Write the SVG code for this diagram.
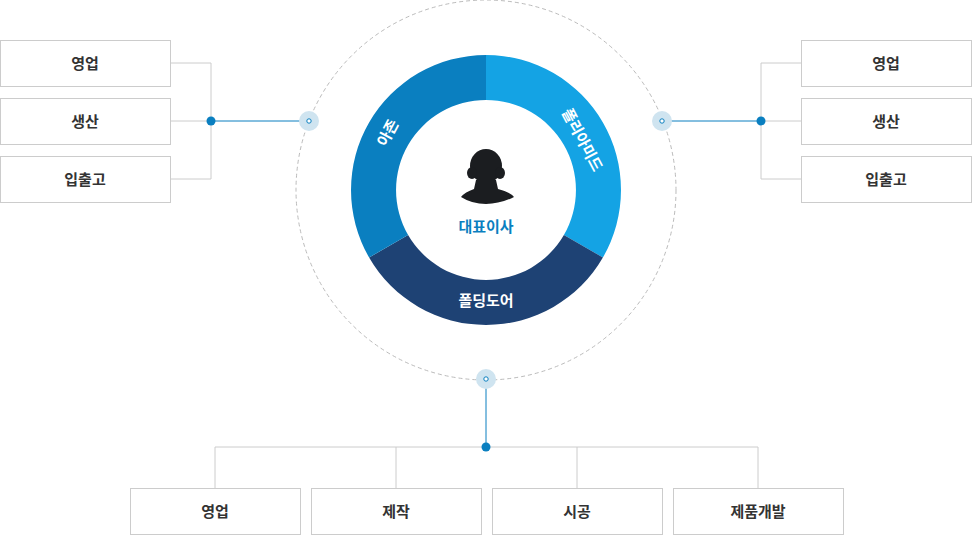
<svg xmlns="http://www.w3.org/2000/svg" width="972" height="535" viewBox="0 0 972 535">
<style>
.box{fill:#fff;stroke:#ccc;stroke-width:1}
.bt{font-family:"Noto Sans CJK KR","Noto Sans",sans-serif;font-size:15px;font-weight:bold;fill:#333;text-anchor:middle}
.wt{font-family:"Noto Sans CJK KR","Noto Sans",sans-serif;font-size:15px;font-weight:bold;fill:#fff;text-anchor:middle}
.gl{stroke:#ccc;stroke-width:1;fill:none}
.bl{stroke:#0a7fc0;stroke-width:1;fill:none}
.halo{fill:#cfe4f0}
.pin{fill:#fff;stroke:#0a7fc0;stroke-width:1}
.dot{fill:#0a7fc0}
</style>
<circle cx="486" cy="190" r="190" fill="none" stroke="#bbb" stroke-dasharray="4,3"/>
<g id="ring">
<path d="M486 55 A135 135 0 0 1 602.9 257.5 L563.9 235 A90 90 0 0 0 486 100 Z" fill="#14a3e4"/>
<path d="M602.9 257.5 A135 135 0 0 1 369.1 257.5 L408.1 235 A90 90 0 0 0 563.9 235 Z" fill="#1e4274"/>
<path d="M369.1 257.5 A135 135 0 0 1 486 55 L486 100 A90 90 0 0 0 408.1 235 Z" fill="#0a7fc0"/>
<text class="wt" transform="translate(582,140) rotate(62)" dy="5">폴리아미드</text>
<text class="wt" transform="translate(388,133) rotate(-62)" dy="5">아존</text>
<text class="wt" x="486" y="306">폴딩도어</text>
</g>
<g id="center">
<ellipse cx="486" cy="166" rx="16" ry="17" fill="#1b1d20"/>
<ellipse cx="472" cy="173" rx="5" ry="6" fill="#1b1d20"/>
<ellipse cx="500" cy="173" rx="5" ry="6" fill="#1b1d20"/>
<path d="M476 180 L496 180 L498 189 Q510 192 514 197 Q500 204 486 204 Q472 204 461 197 Q465 192 474 189 Z" fill="#1b1d20"/>
<text x="486" y="232" font-family="Noto Sans CJK KR,sans-serif" font-size="15" font-weight="bold" fill="#0a7fc0" text-anchor="middle">대표이사</text>
</g>
<g id="connectors">
<path class="gl" d="M170 63H211V179H170M170 121H211"/>
<path class="gl" d="M801 63H761V179H801M801 121H761"/>
<path class="gl" d="M215 488V447H758V488M396 447V488M577 447V488"/>
<path class="bl" d="M211 121H309M662 121H761M486 379V447"/>
<circle class="halo" cx="309" cy="121" r="10"/><circle class="pin" cx="309" cy="121" r="2.2"/>
<circle class="halo" cx="662" cy="121" r="10"/><circle class="pin" cx="662" cy="121" r="2.2"/>
<circle class="halo" cx="486" cy="379" r="10"/><circle class="pin" cx="486" cy="379" r="2.2"/>
<circle class="dot" cx="211" cy="121" r="4.5"/>
<circle class="dot" cx="761" cy="121" r="4.5"/>
<circle class="dot" cx="486" cy="447" r="4.5"/>
</g>
<g id="l1"><rect class="box" x="0.5" y="40.5" width="170" height="46"/><text class="bt" x="85" y="69">영업</text></g>
<g id="l2"><rect class="box" x="0.5" y="98.5" width="170" height="46"/><text class="bt" x="85" y="127">생산</text></g>
<g id="l3"><rect class="box" x="0.5" y="156.5" width="170" height="46"/><text class="bt" x="85" y="185">입출고</text></g>
<g id="r1"><rect class="box" x="801.5" y="40.5" width="170" height="46"/><text class="bt" x="886" y="69">영업</text></g>
<g id="r2"><rect class="box" x="801.5" y="98.5" width="170" height="46"/><text class="bt" x="886" y="127">생산</text></g>
<g id="r3"><rect class="box" x="801.5" y="156.5" width="170" height="46"/><text class="bt" x="886" y="185">입출고</text></g>
<g id="b1"><rect class="box" x="130.5" y="488.5" width="170" height="46"/><text class="bt" x="215" y="517">영업</text></g>
<g id="b2"><rect class="box" x="311.5" y="488.5" width="170" height="46"/><text class="bt" x="396" y="517">제작</text></g>
<g id="b3"><rect class="box" x="492.5" y="488.5" width="170" height="46"/><text class="bt" x="577" y="517">시공</text></g>
<g id="b4"><rect class="box" x="673.5" y="488.5" width="170" height="46"/><text class="bt" x="758" y="517">제품개발</text></g>
</svg>
